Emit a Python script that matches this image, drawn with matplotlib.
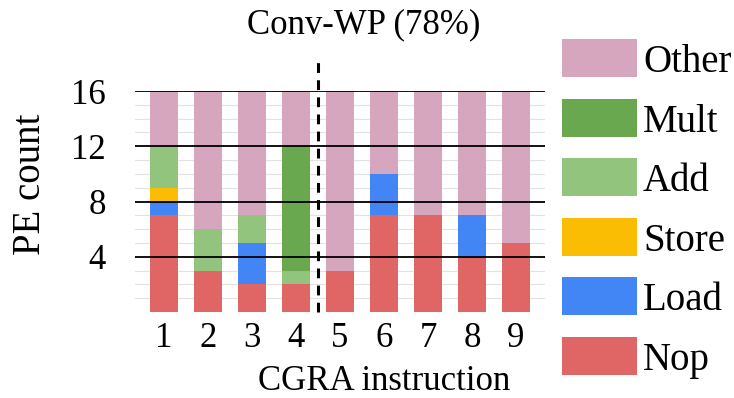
import matplotlib.pyplot as plt
from matplotlib.patches import Rectangle

plt.rcParams['font.family'] = ['Liberation Serif', 'DejaVu Serif']

instructions = ['1', '2', '3', '4', '5', '6', '7', '8', '9']
nop = [7, 3, 2, 2, 3, 7, 7, 4, 5]
load = [1, 0, 3, 0, 0, 3, 0, 3, 0]
store = [1, 0, 0, 0, 0, 0, 0, 0, 0]
add = [3, 3, 2, 1, 0, 0, 0, 0, 0]
mult = [0, 0, 0, 9, 0, 0, 0, 0, 0]
other = [4, 10, 9, 4, 13, 6, 9, 9, 11]

series = [('Nop', nop, '#e06666'),
          ('Load', load, '#4285f4'),
          ('Store', store, '#fbbc04'),
          ('Add', add, '#93c47d'),
          ('Mult', mult, '#6aa84f'),
          ('Other', other, '#d5a6bd')]

W, H = 734, 398
fig = plt.figure(figsize=(W / 100, H / 100), dpi=100)
ax = fig.add_axes([135 / W, 1 - 312 / H, 410 / W, 221 / H])

x = list(range(1, len(instructions) + 1))
bottom = [0] * len(x)
for name, vals, color in series:
    ax.bar(x, vals, width=0.64, bottom=bottom, color=color, zorder=2)
    bottom = [b + v for b, v in zip(bottom, vals)]

# light lines at each unit, dark ones every 4
for y in range(1, 17):
    if y % 4:
        ax.axhline(y, color='#e2e2e2', lw=0.8, zorder=1)
    else:
        ax.axhline(y, color='black', lw=1.3, zorder=3)

ax.set_xlim(0.34, 9.66)
ax.set_ylim(0, 16)
ax.set_yticks([4, 8, 12, 16])
ax.set_xticks(x)
ax.set_xticklabels(instructions)
ax.tick_params(length=0, labelsize=25)
ax.tick_params(axis='y', pad=21)
ax.tick_params(axis='x', pad=7)
for s in ax.spines.values():
    s.set_visible(False)

fig.text(30 / W, 1 - 184 / H, 'PE count', fontsize=28, rotation=90,
         ha='center', va='center')
fig.text(384 / W, 1 - 390 / H, 'CGRA instruction', fontsize=25,
         ha='center', va='baseline')

# divider between the two loop groups
ax.plot([4.5, 4.5], [0, 18.45], color='black', lw=2.2, ls=(0, (3.2, 2.4)),
        clip_on=False, zorder=4)
fig.text(364 / W, 1 - 33 / H, 'Conv-WP (78%)', fontsize=25,
         ha='center', va='baseline')

# legend column on the right, top entry is the top of the stack
for i, (name, vals, color) in enumerate(series[::-1]):
    top = 39 + i * 59.6
    fig.patches.append(Rectangle((562 / W, 1 - (top + 38) / H), 75 / W, 38 / H,
                                 transform=fig.transFigure, facecolor=color))
    fig.text(643 / W, 1 - (top + 19) / H, name, fontsize=28,
             ha='left', va='center_baseline')

fig.savefig('out.png', dpi=100)
